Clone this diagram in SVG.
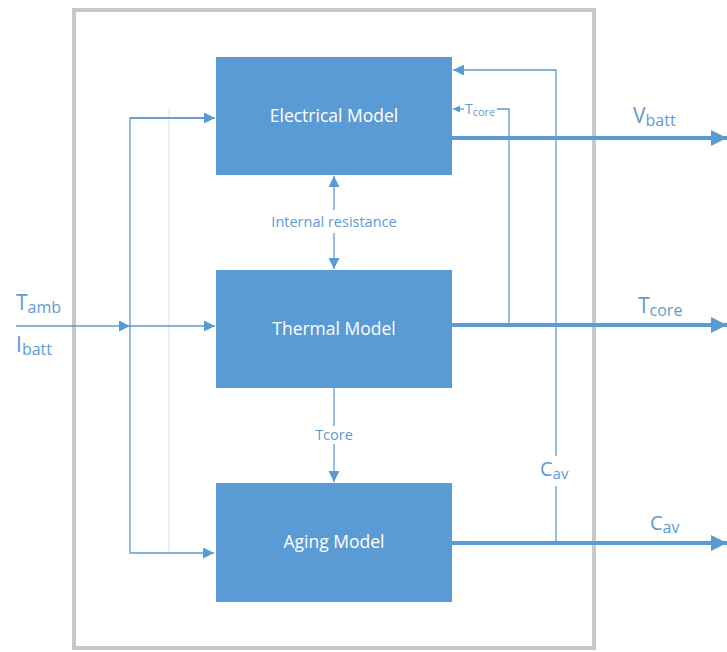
<svg xmlns="http://www.w3.org/2000/svg" width="727" height="652" viewBox="0 0 727 652">
<defs>
<style>
.box{fill:#5b9bd5;}
.bt{fill:#fff;font-family:"Open Sans","Liberation Sans",sans-serif;font-size:17.5px;text-anchor:middle;}
.thin{stroke:#5b9bd5;stroke-width:1.3;fill:none;}
.thick{stroke:#5b9bd5;stroke-width:4;fill:none;}
.lbl{fill:#5b9bd5;font-family:"Open Sans","Liberation Sans",sans-serif;}
.sm{fill:#5b9bd5;font-family:"Open Sans","Liberation Sans",sans-serif;font-size:14.5px;text-anchor:middle;}
</style>
<marker id="a" viewBox="0 0 10 10" refX="10" refY="5" markerWidth="14" markerHeight="11" markerUnits="userSpaceOnUse" orient="auto"><path d="M0,0L10,5L0,10z" fill="#5b9bd5"/></marker>
<marker id="as" viewBox="0 0 10 10" refX="10" refY="5" markerWidth="9" markerHeight="7" markerUnits="userSpaceOnUse" orient="auto"><path d="M0,0L10,5L0,10z" fill="#5b9bd5"/></marker>
<marker id="ab" viewBox="0 0 10 10" refX="10" refY="5" markerWidth="22" markerHeight="16" markerUnits="userSpaceOnUse" orient="auto"><path d="M0,0L10,5L0,10z" fill="#5b9bd5"/></marker>
</defs>
<rect x="74" y="10" width="520" height="638" fill="#fff" stroke="#c8c8c8" stroke-width="4"/>
<g id="electrical"><rect class="box" x="216" y="57" width="236" height="118"/><text class="bt" x="334" y="122">Electrical Model</text></g>
<g id="thermal"><rect class="box" x="216" y="270" width="236" height="118"/><text class="bt" x="334" y="335">Thermal Model</text></g>
<g id="aging"><rect class="box" x="216" y="483" width="236" height="119"/><text class="bt" x="334" y="548">Aging Model</text></g>
<g id="connectors">
<line x1="169" y1="108" x2="169" y2="553" stroke="#e4ebf5" stroke-width="1.3"/>
<line class="thin" x1="16" y1="326" x2="130" y2="326" marker-end="url(#a)"/>
<polyline class="thin" points="214,118 130,118 130,553 214,553" marker-end="url(#a)"/>
<line class="thin" x1="130" y1="118" x2="215" y2="118" marker-end="url(#a)"/>
<line class="thin" x1="130" y1="326" x2="215" y2="326" marker-end="url(#a)"/>
<line class="thick" x1="452" y1="138" x2="727" y2="138" marker-end="url(#ab)"/>
<line class="thick" x1="452" y1="325" x2="727" y2="325" marker-end="url(#ab)"/>
<line class="thick" x1="452" y1="543" x2="727" y2="543" marker-end="url(#ab)"/>
<polyline class="thin" points="556,543 556,486"/>
<polyline class="thin" points="556,456 556,70 453,70" marker-end="url(#a)"/>
<polyline class="thin" points="509,325 509,109 497,109"/>
<line class="thin" x1="464" y1="109" x2="453" y2="109" marker-end="url(#as)"/>
<line class="thin" x1="334" y1="210" x2="334" y2="176" marker-end="url(#a)"/>
<line class="thin" x1="334" y1="233" x2="334" y2="269" marker-end="url(#a)"/>
<line class="thin" x1="334" y1="388" x2="334" y2="426" />
<line class="thin" x1="334" y1="444" x2="334" y2="482" marker-end="url(#a)"/>
</g>
<text class="sm" x="334" y="227">Internal resistance</text>
<text class="sm" x="334" y="440" font-size="12.5">Tcore</text>
<text class="lbl" x="465" y="114" font-size="14">T<tspan font-size="11" dy="2">core</tspan></text>
<text class="lbl" x="540" y="476" font-size="20">C<tspan font-size="15" dy="3">av</tspan></text>
<text class="lbl" x="16" y="310" font-size="21">T<tspan font-size="16" dy="3">amb</tspan></text>
<text class="lbl" x="16" y="352" font-size="21">I<tspan font-size="16" dy="3">batt</tspan></text>
<text class="lbl" x="633" y="123" font-size="21">V<tspan font-size="16" dy="3">batt</tspan></text>
<text class="lbl" x="638" y="313" font-size="21">T<tspan font-size="16" dy="3">core</tspan></text>
<text class="lbl" x="650" y="530" font-size="20">C<tspan font-size="16" dy="3">av</tspan></text>
</svg>
